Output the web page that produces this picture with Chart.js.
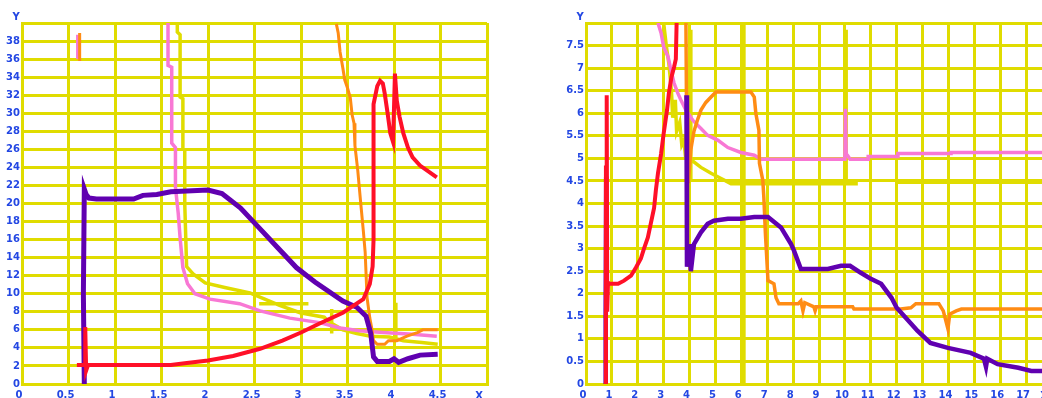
<!DOCTYPE html>
<html>
<head>
<meta charset="utf-8">
<script src="https://cdn.jsdelivr.net/npm/chart.js@4.4.1/dist/chart.umd.min.js"></script>
<style>
html,body{margin:0;padding:0;background:#fff;width:1042px;height:398px;overflow:hidden;position:relative;}
canvas{position:absolute;top:0;}
#c1{left:0;}
#c2{left:564px;}
</style>
</head>
<body>
<canvas id="c1" width="500" height="410"></canvas>
<canvas id="c2" width="500" height="410"></canvas>
<script>
// ---------- data (x, y); null y = gap ----------
const leftXTicks = [0,0.5,1,1.5,2,2.5,3,3.5,4,4.5];
const leftYTicks = [0,2,4,6,8,10,12,14,16,18,20,22,24,26,28,30,32,34,36,38];
const rightXTicks = [0,1,2,3,4,5,6,7,8,9,10,11,12,13,14,15,16,17];
const rightYTicks = [0,0.5,1,1.5,2,2.5,3,3.5,4,4.5,5,5.5,6,6.5,7,7.5];

const leftPurple = [[0.67,0],[0.66,10],[0.67,21.6],[0.69,21.0],[0.72,20.6],[0.8,20.5],[1.2,20.5],[1.3,20.9],[1.45,21.0],[1.6,21.3],[2.0,21.5],[2.15,21.1],[2.35,19.5],[2.55,17.3],[2.75,15.1],[2.95,12.9],[3.15,11.3],[3.45,9.2],[3.6,8.5],[3.7,7.5],[3.75,5.6],[3.78,3.0],[3.82,2.5],[3.95,2.5],[4.0,2.8],[4.05,2.4],[4.15,2.8],[4.28,3.2],[4.47,3.3]];
const leftRed = [[0.59,2.1],[0.68,2.1],[0.68,6.3],[0.69,1.5],[0.71,2.1],[1.6,2.1],[1.75,2.3],[2.0,2.6],[2.27,3.1],[2.56,3.9],[2.8,4.8],[3.0,5.7],[3.2,6.7],[3.45,7.9],[3.67,9.4],[3.74,11.1],[3.77,13],[3.78,16],[3.78,31],[3.82,33],[3.85,33.6],[3.88,33.3],[3.9,32.2],[3.93,30.1],[3.96,27.8],[3.99,26.8],[4.01,34.4],[4.03,31.4],[4.06,29.6],[4.1,27.8],[4.15,26.2],[4.2,25.1],[4.28,24.2],[4.35,23.7],[4.46,22.9]];
const leftOrange = [[0.62,35.8],[0.62,38.9],[0.62,null],[3.38,39.9],[3.4,38.9],[3.42,36.8],[3.45,35],[3.47,33.7],[3.5,32.8],[3.53,31.7],[3.55,29.8],[3.57,28.9],[3.58,26.4],[3.61,23.7],[3.64,20.3],[3.67,17],[3.69,14.6],[3.71,9.6],[3.74,7.3],[3.76,6.2],[3.78,4.8],[3.82,4.4],[3.9,4.4],[3.94,4.8],[4.03,4.8],[4.14,5.3],[4.25,5.7],[4.31,6.0],[4.47,6.0]];
const leftPink = [[0.6,36],[0.6,38.7],[0.6,null],[1.57,40],[1.57,35.3],[1.61,35.1],[1.61,26.7],[1.65,26.2],[1.65,21.8],[1.68,18.9],[1.7,16.2],[1.73,12.9],[1.78,11.1],[1.86,10.0],[2.02,9.4],[2.34,8.9],[2.56,8.1],[2.88,7.3],[3.2,6.8],[3.42,6.2],[3.63,5.9],[3.88,5.7],[4.2,5.5],[4.46,5.3]];
const leftYellow = [[1.67,40],[1.67,39],[1.7,38.7],[1.7,31.8],[1.73,31.6],[1.73,26.1],[1.75,25.9],[1.75,20],[1.77,13],[1.84,12.2],[1.97,11.2],[2.18,10.7],[2.45,10.1],[2.61,9.4],[2.77,8.7],[2.99,7.9],[3.25,7.4],[3.3,6.9],[3.45,6.0],[3.6,5.6],[3.75,5.3],[3.95,5.2],[4.1,4.8],[4.3,4.6],[4.47,4.4],[4.47,null],[2.55,8.9],[3.08,8.9],[3.08,null],[3.33,5.6],[3.33,8.3],[3.33,null],[4.02,5.0],[4.02,9.0]];

const rightPurple = [[0.75,0],[0.75,1.2],[0.77,1.6],[0.78,4.6],[0.78,null],[3.88,6.4],[3.9,2.6],[4.0,3.1],[4.05,2.5],[4.17,3.1],[4.44,3.36],[4.7,3.55],[4.94,3.62],[5.48,3.66],[5.98,3.66],[6.5,3.7],[7.03,3.7],[7.53,3.47],[7.92,3.1],[8.03,2.96],[8.3,2.55],[9.34,2.55],[9.85,2.62],[10.2,2.62],[10.6,2.47],[11.0,2.33],[11.4,2.22],[11.8,1.91],[12.0,1.69],[12.35,1.47],[12.8,1.18],[13.3,0.91],[13.98,0.8],[14.86,0.69],[15.37,0.56],[15.45,0.38],[15.5,0.56],[15.9,0.44],[16.7,0.36],[17.2,0.29],[18,0.29]];
const rightRed = [[0.77,0],[0.77,4.8],[0.8,4.8],[0.8,6.4],[0.82,1.6],[0.85,2.25],[0.9,2.22],[1.24,2.22],[1.47,2.29],[1.74,2.4],[1.93,2.58],[2.12,2.78],[2.24,3.0],[2.39,3.25],[2.5,3.55],[2.63,3.9],[2.7,4.3],[2.78,4.67],[2.9,5.1],[3.0,5.55],[3.13,6.07],[3.2,6.44],[3.3,6.8],[3.4,7.02],[3.47,7.2],[3.5,8]];
const rightOrange = [[3.86,8],[3.88,6.3],[3.92,6.0],[3.95,5.4],[3.95,4.45],[4.05,5.2],[4.17,5.6],[4.3,5.84],[4.44,6.07],[4.63,6.24],[4.83,6.36],[5.02,6.47],[6.37,6.47],[6.5,6.36],[6.56,6.0],[6.68,5.62],[6.7,4.89],[6.83,4.51],[6.87,4.13],[6.93,3.33],[7.03,2.29],[7.26,2.22],[7.34,1.91],[7.45,1.78],[8.2,1.78],[8.3,1.84],[8.38,1.62],[8.45,1.8],[8.8,1.71],[8.85,1.62],[8.9,1.71],[10.3,1.71],[10.35,1.66],[12.16,1.66],[12.55,1.69],[12.74,1.78],[13.63,1.78],[13.8,1.62],[13.98,1.22],[14.05,1.55],[14.3,1.62],[14.5,1.66],[18,1.66]];
const rightPink = [[2.78,8],[2.9,7.78],[3.0,7.47],[3.17,7.25],[3.28,6.96],[3.4,6.67],[3.55,6.44],[3.67,6.29],[3.86,6.07],[4.13,5.84],[4.44,5.66],[4.7,5.51],[5.1,5.4],[5.48,5.24],[5.98,5.13],[6.5,5.07],[6.76,4.98],[10.0,4.98],[10.02,6.1],[10.05,5.1],[10.1,5.07],[10.2,4.98],[10.9,4.98],[10.9,5.04],[12.05,5.04],[12.05,5.11],[14.1,5.11],[14.1,5.13],[18,5.13]];
const rightYellow = [[3.0,8],[3.1,7.5],[3.2,7.1],[3.3,6.5],[3.35,5.9],[3.45,6.3],[3.5,5.6],[3.62,5.8],[3.7,5.3],[3.78,5.4],[3.85,5.0],[4.1,4.95],[4.44,4.8],[4.83,4.67],[5.2,4.56],[5.6,4.44],[10.5,4.44],[10.5,null],[12.05,4.47],[18,4.47],[18,null],[4.05,4.5],[4.05,7.85],[4.05,null],[6.1,0],[6.1,8],[6.1,null],[10.05,4.45],[10.05,7.85]];

// ---------- styles ----------
const GRID = '#e0dc00';
const LABEL = '#2347e3';
const C = {purple:'#6000b0', red:'#ff1028', orange:'#ff8c14', pink:'#f878d4', yellow:'#e0dc00'};

Chart.defaults.font.family = 'DejaVu Sans';
Chart.defaults.font.size = 10;
Chart.defaults.font.weight = 'bold';

function ds(arr, color, w, order){
  return {data: arr.map(p => ({x:p[0], y:p[1]})), borderColor: color, backgroundColor: color,
    borderWidth: w, pointRadius: 0, tension: 0, spanGaps: false, order: order, fill: false};
}

const axisLabels = {
  id: 'axisLabels',
  afterDraw(chart){
    const a = chart.chartArea, ctx = chart.ctx;
    ctx.save();
    ctx.fillStyle = LABEL;
    ctx.font = 'bold 10px "DejaVu Sans"';
    ctx.textAlign = 'center';
    ctx.textBaseline = 'middle';
    ctx.fillText('Y', a.left - 6, a.top - 6);
    ctx.fillText('X', a.right - 8, a.bottom + 12);
    ctx.restore();
  }
};

function makeChart(id, sets, xmax, xstep, ymax, ystep, xTicks, yTicks, padRight){
  return new Chart(document.getElementById(id), {
    type: 'line',
    data: {datasets: sets},
    plugins: [axisLabels],
    options: {
      responsive: false, animation: false,
      layout: {padding: {top: 23, right: padRight, bottom: 0, left: 0}},
      plugins: {legend: {display: false}, tooltip: {enabled: false}},
      scales: {
        x: {type: 'linear', min: 0, max: xmax,
          afterFit(s){ s.height = 26; },
          afterBuildTicks(s){ s.ticks = xTicks.concat([xmax]).map(v => ({value: v})); },
          grid: {color: GRID, lineWidth: 3, drawTicks: false},
          border: {color: GRID, width: 3},
          ticks: {color: LABEL, padding: 5, labelOffset: -3, maxRotation: 0, autoSkip: false,
            callback: (v) => v === xmax ? '' : String(v)}
        },
        y: {type: 'linear', min: 0, max: ymax,
          afterFit(s){ s.width = 22; },
          afterBuildTicks(s){ s.ticks = yTicks.concat([ymax]).map(v => ({value: v})); },
          grid: {color: GRID, lineWidth: 3, drawTicks: false},
          border: {color: GRID, width: 3},
          ticks: {color: LABEL, padding: 2, autoSkip: false,
            callback: (v) => v === ymax ? '' : String(v)}
        }
      }
    }
  });
}

makeChart('c1', [
  ds(leftRed, C.red, 4, 0),
  ds(leftPurple, C.purple, 5, 1),
  ds(leftOrange, C.orange, 3, 2),
  ds(leftPink, C.pink, 3.5, 3),
  ds(leftYellow, C.yellow, 3.5, 4)
], 5, 0.5, 40, 2, leftXTicks, leftYTicks, 13);

makeChart('c2', [
  ds(rightRed, C.red, 4, 0),
  ds(rightPurple, C.purple, 4.5, 1),
  ds(rightOrange, C.orange, 3.5, 2),
  ds(rightPink, C.pink, 3.5, 3),
  ds(rightYellow, C.yellow, 3.5, 4)
], 18, 1, 8, 0.5, rightXTicks, rightYTicks, 12);
</script>
</body>
</html>
